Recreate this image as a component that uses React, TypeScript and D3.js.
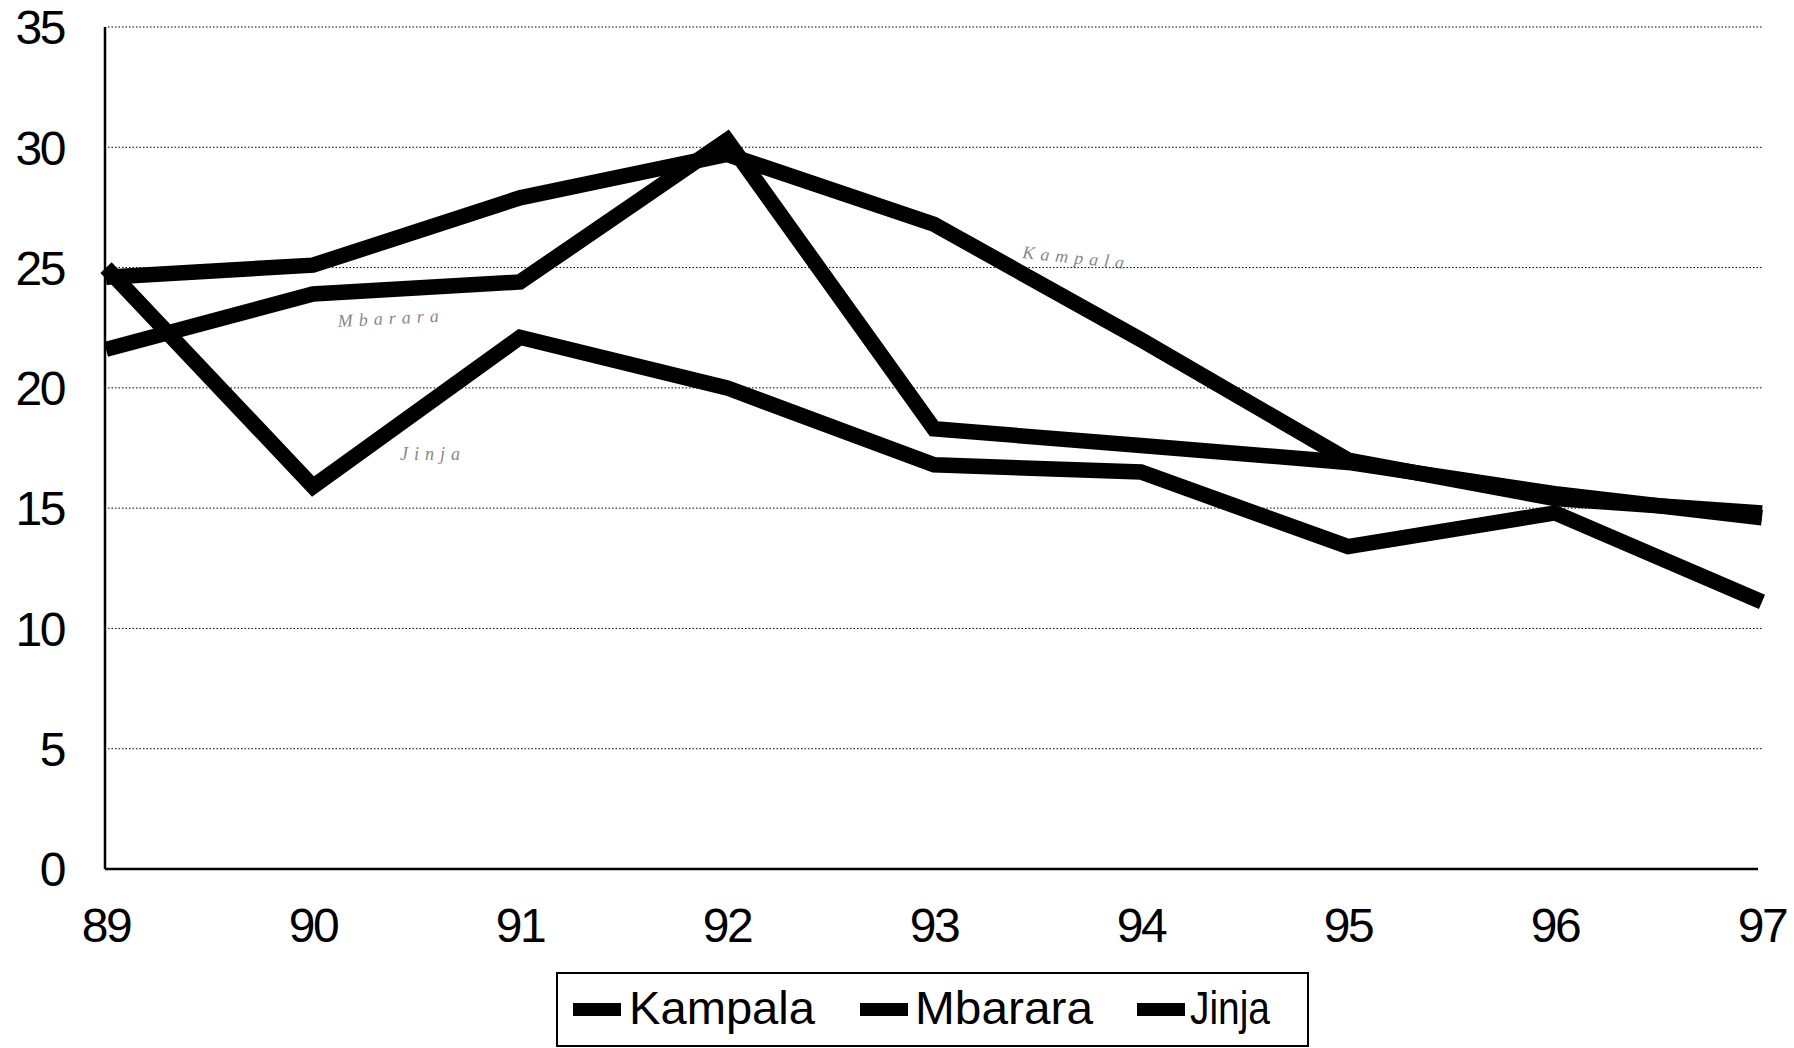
import React from "react";
import * as d3 from "d3";

const years = ["89", "90", "91", "92", "93", "94", "95", "96", "97"];
const kampala = [24.6, 25.1, 27.9, 29.7, 26.8, 22.0, 17.0, 15.4, 14.8];
const mbarara = [21.6, 23.9, 24.4, 30.3, 18.3, 17.6, 16.9, 15.6, 14.6];
const jinja = [25.0, 15.9, 22.1, 20.0, 16.8, 16.5, 13.4, 14.8, 11.1];
const yTicks = [0, 5, 10, 15, 20, 25, 30, 35];
const seriesNames = ["Kampala", "Mbarara", "Jinja"];

const W = 1794;
const H = 1048;
const FONT = "'Liberation Sans', Arial, Helvetica, sans-serif";

export default function App() {
  const x = d3.scalePoint<string>().domain(years).range([106, 1762]);
  const y = d3.scaleLinear().domain([0, 35]).range([869, 27]);
  const line = d3
    .line<number>()
    .x((_, i) => x(years[i]) as number)
    .y((d) => y(d));

  const series = [kampala, mbarara, jinja];
  const legendItems = [
    { sx: 573, tx: 629, len: 186 },
    { sx: 860, tx: 915, len: 178 },
    { sx: 1137, tx: 1190, len: 80 },
  ];

  return (
    <div style={{ position: "absolute", left: 0, top: 0 }}>
      <svg width={W} height={H} style={{ display: "block", background: "#fff" }}>
        <rect x={0} y={0} width={W} height={H} fill="#fff" />
        {/* gridlines */}
        {yTicks
          .filter((t) => t > 0)
          .map((t) => (
            <line
              key={t}
              x1={108}
              x2={1762}
              y1={y(t)}
              y2={y(t)}
              stroke="#000"
              strokeWidth={1}
              strokeDasharray="1.5 2"
            />
          ))}
        {/* axes */}
        <line x1={105} x2={105} y1={y(35)} y2={y(0)} stroke="#000" strokeWidth={2.5} />
        <line x1={105} x2={1758} y1={y(0)} y2={y(0)} stroke="#000" strokeWidth={2.5} />
        {/* y tick labels */}
        {yTicks.map((t) => (
          <text
            key={t}
            x={64}
            y={y(t)}
            dy="0.36em"
            textAnchor="end"
            fontFamily={FONT}
            fontSize={48}
            letterSpacing={-2.5}
            fill="#000"
          >
            {t}
          </text>
        ))}
        {/* x tick labels */}
        {years.map((yr) => (
          <text
            key={yr}
            x={x(yr) as number}
            y={942}
            textAnchor="middle"
            fontFamily={FONT}
            fontSize={48}
            letterSpacing={-2.5}
            fill="#000"
          >
            {yr}
          </text>
        ))}
        {/* series lines */}
        {series.map((s, i) => (
          <path
            key={i}
            d={line(s) as string}
            fill="none"
            stroke="#000"
            strokeWidth={15.5}
            strokeLinejoin="miter"
            strokeLinecap="butt"
          />
        ))}
        {/* faint handwritten annotations */}
        <text x={1022} y={258} fontFamily="serif" fontStyle="italic" fontSize={18} letterSpacing={6} fill="#555" opacity={0.7} transform="rotate(6 1022 258)">
          Kampala
        </text>
        <text x={338} y={327} fontFamily="serif" fontStyle="italic" fontSize={18} letterSpacing={6} fill="#555" opacity={0.7} transform="rotate(-3 338 327)">
          Mbarara
        </text>
        <text x={400} y={460} fontFamily="serif" fontStyle="italic" fontSize={18} letterSpacing={6} fill="#555" opacity={0.7}>
          Jinja
        </text>
        {/* legend */}
        <rect x={557} y={973} width={751} height={73} fill="#fff" stroke="#000" strokeWidth={2} />
        {seriesNames.map((name, i) => (
          <g key={name}>
            <rect x={legendItems[i].sx} y={1003} width={48} height={13} fill="#000" />
            <text
              x={legendItems[i].tx}
              y={1024}
              fontFamily={FONT}
              fontSize={47}
              textLength={legendItems[i].len}
              lengthAdjust="spacingAndGlyphs"
              fill="#000"
            >
              {name}
            </text>
          </g>
        ))}
      </svg>
    </div>
  );
}
